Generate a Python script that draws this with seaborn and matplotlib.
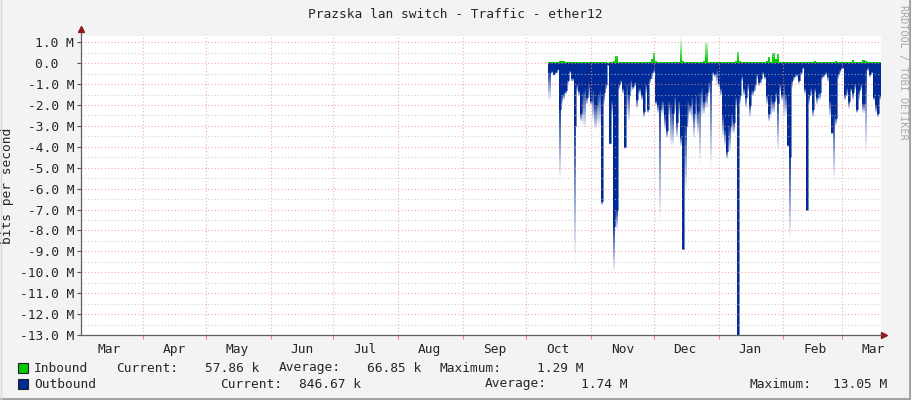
import numpy as np
import pandas as pd
import seaborn as sns
import matplotlib.pyplot as plt
from matplotlib.lines import Line2D
from matplotlib.patches import Rectangle

# daily values (Mbit/s), starting mid October
out_solid = [0.4, 0.35, 0.5, 0.4, 0.3, 2.2, 1.5, 1.4, 1.3, 0.8,
             0.35, 0.7, 3.0, 1.0, 1.3, 2.4, 1.4, 1.2, 1.6, 1.0,
             1.8, 1.3, 2.0, 1.5, 1.3, 6.6, 1.4, 1.0, 0.1, 3.8,
             1.8, 7.8, 7.0, 1.0, 0.8, 1.2, 4.0, 1.0, 1.5, 0.8,
             1.1, 0.9, 1.7, 1.2, 1.5, 2.3, 1.0, 2.2, 0.7, 0.4,
             0.3, 1.8, 2.0, 2.2, 1.8, 2.5, 3.2, 1.8, 2.0, 2.4,
             1.6, 2.8, 1.8, 3.5, 8.9, 3.0, 1.8, 2.0, 1.6, 2.4,
             1.5, 2.3, 1.4, 1.2, 1.8, 1.4, 0.9, 0.8, 0.4, 0.5,
             0.3, 0.9, 1.2, 2.5, 3.2, 4.2, 3.0, 2.4, 2.8, 1.6,
             13.0, 1.5, 0.6, 1.2, 1.6, 1.0, 2.0, 1.3, 1.0, 0.5,
             0.9, 0.7, 0.4, 0.6, 1.5, 2.4, 1.5, 1.8, 1.4, 1.9,
             1.0, 1.5, 1.0, 1.5, 3.9, 4.5, 0.8, 0.6, 0.5, 0.8,
             0.4, 0.2, 1.2, 7.0, 1.5, 1.2, 2.2, 1.2, 1.6, 1.4,
             0.6, 0.5, 0.4, 0.6, 1.8, 3.3, 2.5, 2.6, 0.5, 0.3,
             0.2, 1.5, 1.2, 1.8, 1.2, 1.4, 1.0, 2.2, 1.3, 1.0,
             1.9, 0.3, 0.2, 0.5, 0.4, 1.6, 2.0, 2.4, 1.5]
out_peak = [1.8, 0.5, 0.6, 0.5, 0.35, 5.6, 2.0, 1.8, 1.5, 1.0,
            0.5, 0.9, 9.5, 1.4, 1.6, 2.8, 3.0, 3.2, 2.0, 1.7,
            2.0, 2.8, 3.2, 3.0, 3.0, 6.8, 2.0, 1.3, 0.1, 3.9,
            2.5, 10.0, 8.0, 1.3, 1.0, 1.5, 4.1, 2.6, 2.8, 1.4,
            1.3, 1.1, 2.2, 1.5, 1.8, 2.6, 1.5, 2.4, 1.0, 0.8,
            0.5, 2.0, 2.4, 7.5, 2.5, 3.2, 3.6, 2.6, 4.0, 4.0,
            2.4, 3.6, 2.6, 4.0, 8.9, 6.2, 3.0, 2.5, 2.8, 3.6,
            3.0, 3.4, 4.8, 2.6, 2.5, 2.2, 1.5, 5.0, 0.6, 0.7,
            1.1, 1.2, 1.6, 3.6, 4.0, 4.6, 4.3, 3.4, 3.4, 2.2,
            13.0, 2.0, 0.9, 1.6, 2.2, 1.4, 2.6, 1.6, 1.4, 0.8,
            1.1, 1.0, 0.6, 0.8, 2.0, 2.8, 2.6, 2.4, 1.8, 4.2,
            1.4, 1.8, 2.6, 2.5, 4.0, 8.4, 1.2, 0.8, 0.7, 1.0,
            0.6, 0.3, 1.5, 7.0, 2.0, 1.6, 2.6, 1.5, 2.0, 1.8,
            0.8, 0.7, 0.6, 0.9, 2.6, 3.4, 5.6, 3.0, 0.8, 0.5,
            0.3, 1.8, 1.6, 2.2, 1.4, 1.8, 1.3, 2.4, 1.8, 1.3,
            2.4, 4.3, 0.4, 0.7, 0.5, 1.8, 2.4, 2.6, 1.8]
inbound = [0.05, 0.06, 0.08, 0.07, 0.05, 0.1, 0.12, 0.09, 0.06, 0.05,
           0.05, 0.06, 0.05, 0.04, 0.05, 0.06, 0.05, 0.05, 0.06, 0.04,
           0.05, 0.06, 0.05, 0.07, 0.05, 0.06, 0.05, 0.06, 0.03, 0.05,
           0.07, 0.12, 0.33, 0.06, 0.05, 0.06, 0.05, 0.05, 0.04, 0.05,
           0.06, 0.05, 0.05, 0.06, 0.05, 0.04, 0.05, 0.06, 0.08, 0.2,
           0.5, 0.1, 0.06, 0.08, 0.05, 0.06, 0.05, 0.06, 0.07, 0.05,
           0.05, 0.06, 0.07, 1.27, 0.1, 0.06, 0.05, 0.06, 0.05, 0.05,
           0.06, 0.08, 0.05, 0.06, 0.1, 0.95, 0.07, 0.05, 0.05, 0.06,
           0.05, 0.07, 0.06, 0.08, 0.07, 0.06, 0.06, 0.05, 0.07, 0.12,
           0.53, 0.1, 0.06, 0.05, 0.06, 0.05, 0.05, 0.04, 0.05, 0.06,
           0.05, 0.05, 0.06, 0.05, 0.1, 0.3, 0.08, 0.48, 0.22, 0.45,
           0.07, 0.05, 0.06, 0.05, 0.05, 0.04, 0.05, 0.06, 0.05, 0.05,
           0.06, 0.05, 0.07, 0.06, 0.05, 0.06, 0.05, 0.1, 0.06, 0.05,
           0.05, 0.06, 0.05, 0.07, 0.06, 0.05, 0.08, 0.1, 0.06, 0.05,
           0.05, 0.06, 0.05, 0.07, 0.06, 0.13, 0.08, 0.05, 0.06, 0.07,
           0.16, 0.1, 0.06, 0.05, 0.06, 0.07, 0.06, 0.05, 0.06]

data_start = "2012-10-11 17:00"
view_start = "2012-03-02 10:00"
view_end = "2013-03-19 14:00"
month_names = ["Mar", "Apr", "May", "Jun", "Jul", "Aug", "Sep",
               "Oct", "Nov", "Dec", "Jan", "Feb", "Mar"]
y_ticks = list(range(1, -14, -1))
y_labels = [f"{v}.0 M" if v != 0 else "0.0  " for v in y_ticks]

title = "Prazska lan switch - Traffic - ether12"
legend_rows = [
    ("Inbound", "#00CC00", [("Current:", 116), ("57.86 k", 205), ("Average:", 279),
                            ("66.85 k", 367), ("Maximum:", 440), ("1.29 M", 537)]),
    ("Outbound", "#002A97", [("Current:", 220), ("846.67 k", 299), ("Average:", 485),
                             ("1.74 M", 581), ("Maximum:", 750), ("13.05 M", 833)]),
]

green = "#00CC00"
blue = "#002A97"
bg = "#F3F3F3"

sns.set_style("white")
plt.rcParams["font.family"] = ["DejaVu Sans Mono", "DejaVu Sans"]
plt.rcParams["font.size"] = 9.3

W, H = 911, 400
fig = plt.figure(figsize=(W / 100, H / 100), dpi=100, facecolor=bg)
ax = fig.add_axes([81 / W, 1 - 335 / H, 800 / W, 299 / H])
ax.set_facecolor("white")

days = pd.date_range(data_start, periods=len(out_solid) + 1, freq="D")
solid = np.append(out_solid, out_solid[-1])
peak = np.append(out_peak, out_peak[-1])
inb = np.append(inbound, inbound[-1])

# outbound: solid part then fading tip
ax.fill_between(days, 0, -solid, step="post", color=blue, lw=0, zorder=2)
n = 14
for k in range(n):
    lo = solid + (peak - solid) * k / n
    hi = solid + (peak - solid) * (k + 1) / n
    a = 0.9 * (1 - (k + 0.5) / n)
    ax.fill_between(days, -lo, -hi, step="post", color=blue, alpha=a, lw=0, zorder=2)
sns.lineplot(x=days, y=-solid, drawstyle="steps-post", color=blue, lw=0.4, ax=ax, zorder=2)

# inbound: gradient by height
levels = np.linspace(0, 1.3, 27)
for a0, a1 in zip(levels[:-1], levels[1:]):
    al = 1.0 if a0 < 0.1 else max(0.08, 1 - (a0 - 0.1) / 1.1)
    ax.fill_between(days, np.minimum(inb, a0), np.minimum(inb, a1), step="post",
                    color=green, alpha=al, lw=0, zorder=2)

ax.set_xlim(pd.Timestamp(view_start), pd.Timestamp(view_end))
ax.set_ylim(-13, 1.3)

month_starts = pd.date_range("2012-04-01", "2013-03-01", freq="MS")
month_mids = pd.date_range("2012-03-01", "2013-03-01", freq="MS") + pd.Timedelta(days=15)
ax.set_xticks(month_starts)
ax.set_xticklabels([])
ax.set_xticks(month_mids, minor=True)
ax.set_xticklabels(month_names, minor=True)
ax.tick_params(axis="x", which="major", direction="out", length=3, width=0.8,
               color="#E88080", bottom=True)
ax.tick_params(axis="x", which="minor", length=0, pad=6, bottom=True)

ax.set_yticks(y_ticks)
ax.set_yticklabels(y_labels)
ax.set_yticks(np.arange(0.5, -13, -1), minor=True)
ax.tick_params(axis="y", which="major", direction="out", length=3, width=0.8,
               color="#505050", left=True, pad=2)
ax.tick_params(axis="y", which="minor", length=0)

ax.grid(which="major", axis="both", color="#F09090", ls=(0, (1, 2)), lw=0.8, alpha=0.75)
ax.grid(which="minor", axis="y", color="#C0C0C0", ls=(0, (1, 2)), lw=0.8, alpha=0.75)
ax.set_axisbelow(False)

for s in ["top", "right"]:
    ax.spines[s].set_visible(False)
for s in ["left", "bottom"]:
    ax.spines[s].set_color("#606060")
    ax.spines[s].set_linewidth(0.9)
    ax.spines[s].set_zorder(5)

ax.plot([0, 0], [1, 1.02], transform=ax.transAxes, color="#606060", lw=0.9, clip_on=False)
ax.plot(0, 1.022, marker="^", ms=5, color="#8B1A1A", transform=ax.transAxes, clip_on=False)
ax.plot(1.004, 0, marker=">", ms=5, color="#8B1A1A", transform=ax.transAxes, clip_on=False)

ax.set_xlabel("")
ax.set_ylabel("bits per second", labelpad=4)

fig.text(0.5 * (303 + 608) / W, 1 - 14 / H, title, ha="center", va="center")
fig.text(903 / W, 1 - 5 / H, "RRDTOOL / TOBI OETIKER", rotation=270, ha="center", va="top",
         color="#A8A8A8", fontsize=7.3)

for i, (name, col, items) in enumerate(legend_rows):
    yc = 368 + 16 * i
    fig.add_artist(Rectangle((17.5 / W, 1 - (yc + 5) / H), 10 / W, 10 / H,
                             transform=fig.transFigure, facecolor=col, edgecolor="#202020", lw=0.8))
    fig.text(34 / W, 1 - yc / H, name, ha="left", va="center")
    for txt, x in items:
        fig.text(x / W, 1 - yc / H, txt, ha="left", va="center")

fig.add_artist(Line2D([0, 1], [1 - 398.5 / H] * 2, transform=fig.transFigure, color="#9E9E9E", lw=2))
fig.add_artist(Line2D([1 - 1.5 / W] * 2, [0, 1], transform=fig.transFigure, color="#9E9E9E", lw=2))
fig.add_artist(Line2D([0.5 / W] * 2, [0, 1], transform=fig.transFigure, color="#D8D8D8", lw=1))

fig.savefig("out.png", dpi=100, facecolor=bg)
